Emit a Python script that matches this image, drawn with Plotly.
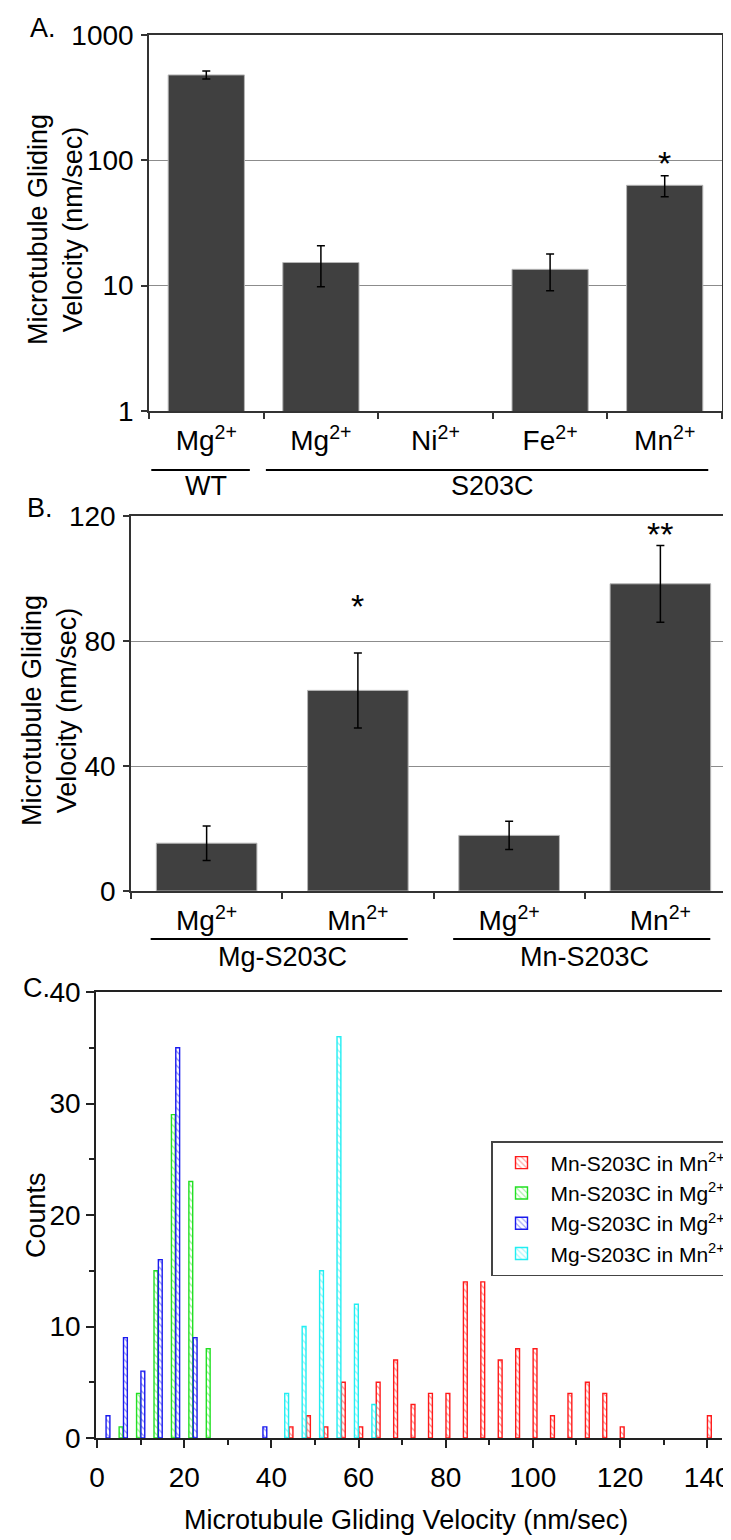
import math
import plotly.graph_objects as go

W, H = 731, 1540
FONT = "Liberation Sans, Arial, sans-serif"

# ---------------- data ----------------
# Panel A (log scale)
a_labels = ["Mg<sup>2+</sup>", "Mg<sup>2+</sup>", "Ni<sup>2+</sup>", "Fe<sup>2+</sup>", "Mn<sup>2+</sup>"]
a_values = [480, 15.3, None, 13.5, 63.2]
a_errors = [35, 5.5, None, 4.4, 12.0]
a_stars = ["", "", "", "", "*"]
a_groups = ["WT", "S203C"]
a_group_first = [0, 1]
a_group_last = [0, 4]

# Panel B (linear)
b_labels = ["Mg<sup>2+</sup>", "Mn<sup>2+</sup>", "Mg<sup>2+</sup>", "Mn<sup>2+</sup>"]
b_values = [15.3, 64.2, 17.8, 98.3]
b_errors = [5.5, 12.0, 4.5, 12.3]
b_stars = ["", "*", "", "**"]
b_groups = ["Mg-S203C", "Mn-S203C"]
b_group_first = [0, 2]
b_group_last = [1, 3]

# Panel C (histogram, bin width 4 nm/sec, bins given by start)
c_names = ["Mn-S203C in Mn<sup>2+</sup>", "Mn-S203C in Mg<sup>2+</sup>",
           "Mg-S203C in Mg<sup>2+</sup>", "Mg-S203C in Mn<sup>2+</sup>"]
red_bins = [44, 48, 52, 56, 60, 64, 68, 72, 76, 80, 84, 88, 92, 96, 100, 104, 108, 112, 116, 120, 140]
red_counts = [1, 2, 1, 5, 1, 5, 7, 3, 4, 4, 14, 14, 7, 8, 8, 2, 4, 5, 4, 1, 2]
green_bins = [4, 8, 12, 16, 20, 24]
green_counts = [1, 4, 15, 29, 23, 8]
blue_bins = [0, 4, 8, 12, 16, 20, 36]
blue_counts = [2, 9, 6, 16, 35, 9, 1]
cyan_bins = [40, 44, 48, 52, 56, 60]
cyan_counts = [4, 10, 15, 36, 12, 3]

# ---------------- styling ----------------
c_colors = ["#ff1a1a", "#22e022", "#1a1aee", "#22eef2"]
BAR = "#404040"
GRID = "#8c8c8c"
TICK = 28
TXT = 27


def px_x(p):
    return p / W


def px_y(p):
    return 1 - p / H


fig = go.Figure()

# Panel A bars
fig.add_trace(go.Bar(
    x=list(range(len(a_labels))), y=a_values,
    marker=dict(color=BAR, line=dict(color="#b5b5b5", width=1)),
    error_y=dict(type="data", array=a_errors, color="black", thickness=1.5, width=4),
    xaxis="x", yaxis="y", showlegend=False))

# Panel B bars
fig.add_trace(go.Bar(
    x=list(range(len(b_labels))), y=b_values,
    marker=dict(color=BAR, line=dict(color="#b5b5b5", width=1)),
    error_y=dict(type="data", array=b_errors, color="black", thickness=1.5, width=4),
    xaxis="x2", yaxis="y2", showlegend=False))

# Panel C hatched histogram bars
series = [(red_bins, red_counts), (green_bins, green_counts),
          (blue_bins, blue_counts), (cyan_bins, cyan_counts)]
for i, ((bins, counts), name, col) in enumerate(zip(series, c_names, c_colors)):
    fig.add_trace(go.Bar(
        x=bins, y=counts, name=name,
        offset=i + 0.06, width=0.88,
        marker=dict(color="white", line=dict(color=col, width=1.4),
                    pattern=dict(shape="\\", fgcolor=col, bgcolor="white",
                                 size=5, solidity=0.25)),
        xaxis="x3", yaxis="y3"))

tickfont = dict(family=FONT, size=TICK, color="black")
common_line = dict(showline=True, linecolor="#333333", linewidth=1.5)

fig.update_layout(
    width=W, height=H, autosize=False,
    margin=dict(l=0, r=0, t=0, b=0, autoexpand=False),
    paper_bgcolor="white", plot_bgcolor="white",
    font=dict(family=FONT, color="black"),
    barmode="overlay", bargap=0.335,
    xaxis=dict(domain=[px_x(141), px_x(714)], range=[-0.5, 4.5],
               tickmode="array", tickvals=list(range(5)), ticktext=a_labels,
               ticks="", tickfont=tickfont, ticklabelstandoff=4,
               minor=dict(tick0=0.5, dtick=1, ticks="outside", ticklen=6,
                          tickcolor="#333333", tickwidth=1.5),
               mirror=True, anchor="y", zeroline=False, showgrid=False, **common_line),
    yaxis=dict(domain=[px_y(403), px_y(27)], type="log", range=[0, 3],
               tickmode="array", tickvals=[1, 10, 100, 1000], ticktext=["1", "10", "100", "1000"],
               ticks="outside", ticklen=6, tickcolor="#333333", tickwidth=1.5,
               tickfont=tickfont, ticklabelstandoff=2,
               showgrid=True, gridcolor=GRID, gridwidth=1,
               mirror=True, anchor="x", zeroline=False, **common_line),
    xaxis2=dict(domain=[px_x(123), px_x(728)], range=[-0.5, 3.5],
                tickmode="array", tickvals=list(range(4)), ticktext=b_labels,
                ticks="", tickfont=tickfont, ticklabelstandoff=4,
                minor=dict(tick0=0.5, dtick=1, ticks="outside", ticklen=6,
                           tickcolor="#333333", tickwidth=1.5),
                mirror=True, anchor="y2", zeroline=False, showgrid=False, **common_line),
    yaxis2=dict(domain=[px_y(883), px_y(508)], range=[0, 120],
                tickmode="array", tickvals=[0, 40, 80, 120],
                ticks="outside", ticklen=6, tickcolor="#333333", tickwidth=1.5,
                tickfont=tickfont, ticklabelstandoff=2,
                showgrid=True, gridcolor=GRID, gridwidth=1,
                mirror=True, anchor="x2", zeroline=False, **common_line),
    xaxis3=dict(domain=[px_x(88), px_x(714)], range=[-0.25, 143.4],
                tickmode="linear", tick0=0, dtick=20,
                ticks="outside", ticklen=8, tickcolor="#222222", tickwidth=1.5,
                minor=dict(dtick=10, ticks="outside", ticklen=5,
                           tickcolor="#222222", tickwidth=1.5),
                tickfont=tickfont, ticklabelstandoff=6,
                mirror=True, anchor="y3", zeroline=False, showgrid=False,
                showline=True, linecolor="#222222", linewidth=1.5),
    yaxis3=dict(domain=[px_y(1430), px_y(984)], range=[0, 40],
                tickmode="linear", tick0=0, dtick=10,
                ticks="outside", ticklen=8, tickcolor="#222222", tickwidth=1.5,
                minor=dict(dtick=5, ticks="outside", ticklen=5,
                           tickcolor="#222222", tickwidth=1.5),
                tickfont=tickfont, ticklabelstandoff=0,
                anchor="x3", zeroline=False, showgrid=False,
                showline=True, linecolor="#222222", linewidth=1.5),
    legend=dict(x=px_x(483), y=px_y(1133), xanchor="left", yanchor="top",
                bgcolor="white", bordercolor="#444444", borderwidth=1.5,
                font=dict(family=FONT, size=21), tracegroupgap=0,
                itemwidth=48, traceorder="normal"),
)

annotations = []
shapes = []


def text_ann(x, y, text, size=TXT, xref="paper", yref="paper", angle=0, **kw):
    d = dict(x=x, y=y, xref=xref, yref=yref, text=text, showarrow=False,
             xanchor="center", yanchor="middle", textangle=angle,
             font=dict(family=FONT, size=size, color="black"))
    d.update(kw)
    return d


# stars
for i, (v, e, s) in enumerate(zip(a_values, a_errors, a_stars)):
    if s:
        annotations.append(text_ann(i, math.log10(v + e), s, size=34, xref="x", yref="y",
                                    yanchor="bottom", yshift=-8))
b_star_shift = [0, 26, 0, -10]
for i, (v, e, s) in enumerate(zip(b_values, b_errors, b_stars)):
    if s:
        annotations.append(text_ann(i, v + e, s, size=34, xref="x2", yref="y2",
                                    yanchor="bottom", yshift=b_star_shift[i]))

# group lines and labels
for g, f, l in zip(a_groups, a_group_first, a_group_last):
    shapes.append(dict(type="line", xref="x", yref="paper", x0=f - 0.48, x1=l + 0.38,
                       y0=px_y(462), y1=px_y(462), line=dict(color="black", width=2)))
    annotations.append(text_ann((f + l) / 2, px_y(478), g, xref="x"))
for g, f, l in zip(b_groups, b_group_first, b_group_last):
    shapes.append(dict(type="line", xref="x2", yref="paper", x0=f - 0.37, x1=l + 0.33,
                       y0=px_y(931), y1=px_y(931), line=dict(color="black", width=2)))
    annotations.append(text_ann((f + l) / 2, px_y(949), g, xref="x2"))

# axis titles
ytitle = "Microtubule Gliding<br>Velocity (nm/sec)"
annotations.append(text_ann(px_x(47), px_y(222), ytitle, angle=-90))
annotations.append(text_ann(px_x(41), px_y(703), ytitle, angle=-90))
annotations.append(text_ann(px_x(28), px_y(1207), "Counts", angle=-90))
annotations.append(text_ann(px_x(398), px_y(1512), "Microtubule Gliding Velocity (nm/sec)"))

# panel letters
for t, xx, yy in [("A.", 35, 20), ("B.", 32, 500), ("C.", 28, 980)]:
    annotations.append(text_ann(px_x(xx), px_y(yy), t))

fig.update_layout(annotations=annotations, shapes=shapes)
fig.write_html("out.html")
